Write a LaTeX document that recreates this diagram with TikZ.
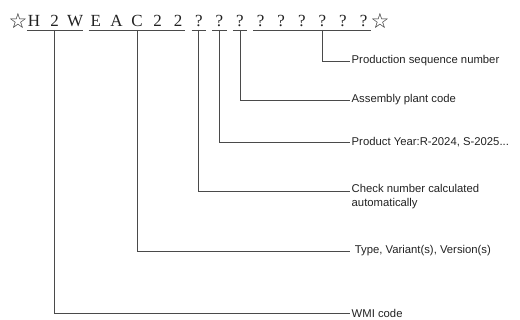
\documentclass[tikz,border=0pt]{standalone}
\usepackage{fontspec}
\setmainfont{Liberation Serif}
\setsansfont{Liberation Sans}
\newfontfamily\symfont{DejaVu Sans}
\usetikzlibrary{calc}
\definecolor{ink}{HTML}{222222}
\definecolor{wire}{HTML}{4A4A4A}
\tikzset{
  vin/.style={anchor=base,inner sep=0pt,minimum width=14pt,font=\fontsize{17}{17}\selectfont,text=ink},
  star/.style={inner sep=0pt,font=\symfont\fontsize{21}{21}\selectfont,text=ink},
  lbl/.style={anchor=west,inner sep=1.5pt,align=left,font=\sffamily\fontsize{11.3}{13.8}\selectfont,text=ink},
  uline/.style={draw=wire,line width=.8pt},
  conn/.style={draw=wire,line width=.8pt},
}
\begin{document}
\begin{tikzpicture}[x=1pt,y=-1pt]
  \useasboundingbox (0,0) rectangle (520,320);
  % VIN characters
  \node[star] (s1) at (18,21) {☆};
  \foreach \c [count=\i] in {H,2,W,E,A,C,2,2,?,?,?,?,?,?,?,?,?}
    \node[vin] (c\i) at ({13.4+20.6*\i},27) {\c};
  \node[star] (s2) at (380,21) {☆};
  % underlines of the groups
  \coordinate (ul) at (0,30);
  \foreach \a/\b in {1/3,4/8,9/9,10/10,11/11,12/17}
    \draw[uline] (c\a.west |- ul) -- (c\b.east |- ul);
  % labels
  \node[lbl] (seq) at (350,61) {Production sequence number};
  \node[lbl] (plant) at (350,100) {Assembly plant code};
  \node[lbl] (year) at (350,142) {Product Year:R-2024, S-2025...};
  \node[lbl,anchor=north west] (check) at (350,183) {Check number calculated\\automatically};
  \node[lbl] (type) at (350,251) {\ Type, Variant(s), Version(s)};
  \node[lbl] (wmi) at (350,313) {WMI code};
  % leaders
  \coordinate (tw) at ($(c1.center)!.5!(c3.center)$);
  \coordinate (tt) at ($(c4.center)!.5!(c8.center)$);
  \draw[conn] (c15 |- ul) |- (seq.west);
  \draw[conn] (c11 |- ul) |- (plant.west);
  \draw[conn] (c10 |- ul) |- (year.west);
  \draw[conn] (c9 |- ul) |- ([yshift=-8pt]check.north west);
  \draw[conn] (tt |- ul) |- (type.west);
  \draw[conn] (tw |- ul) |- (wmi.west);
\end{tikzpicture}
\end{document}
